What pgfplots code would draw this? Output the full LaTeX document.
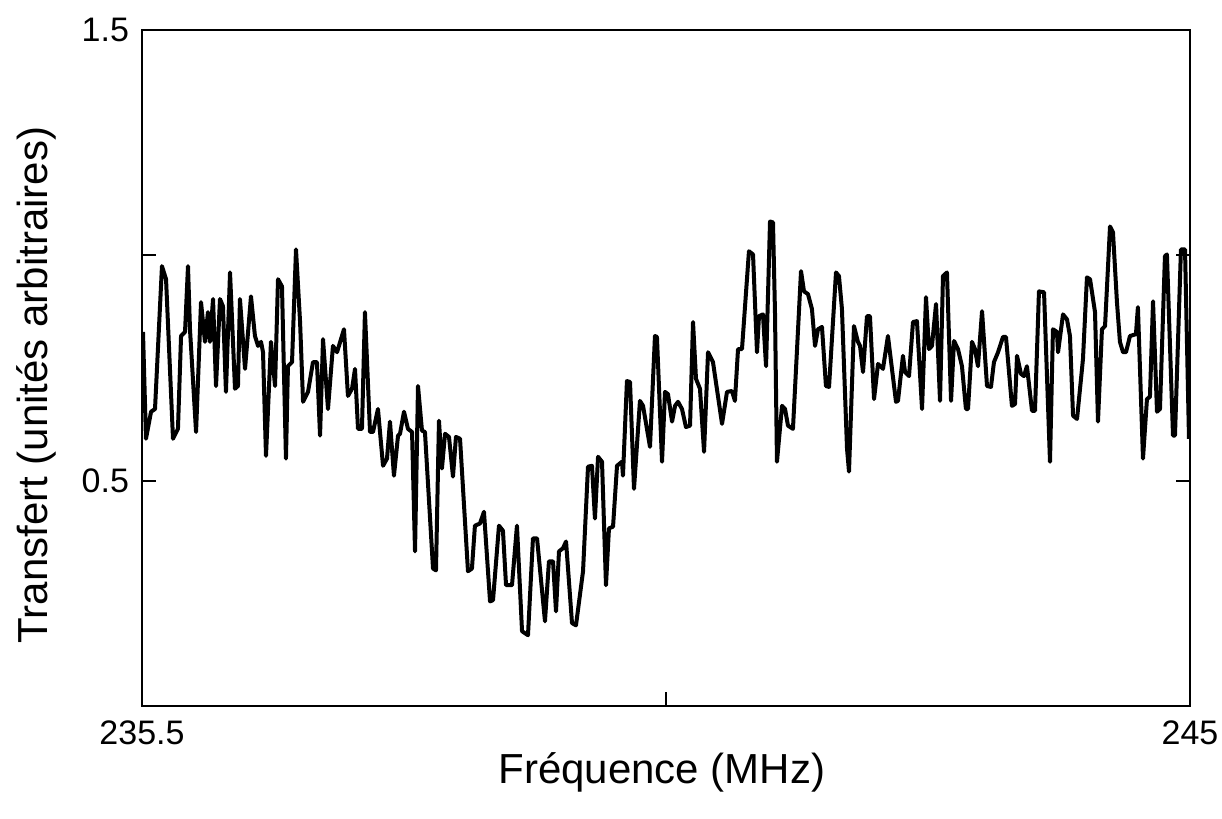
\documentclass[border=0pt]{standalone}
\usepackage{fontspec}
\setmainfont{Liberation Sans}
\setsansfont{Liberation Sans}
\usepackage{pgfplots}
\pgfplotsset{compat=1.18}
\begin{document}
\begin{tikzpicture}
\useasboundingbox (-71pt,-56.5pt) rectangle (540pt,353pt);
\begin{axis}[
  at={(0,0)}, anchor=origin,
  scale only axis, width=524pt, height=338pt,
  xmin=235.5, xmax=245, ymin=0, ymax=1.5,
  xtick={235.5,240.25,245}, xticklabels={235.5,,245},
  ytick={0.5,1,1.5}, yticklabels={0.5,,1.5},
  xtick pos=lower, ytick pos=both,
  tick align=inside, major tick length=7pt,
  axis line style={line width=1.1pt},
  every tick/.style={line width=1.1pt, black},
  tick label style={font=\fontsize{17}{20}\selectfont},
  xticklabel style={yshift=-4pt},
  yticklabel style={xshift=-3pt},
  /pgf/number format/assume math mode=true,
  xlabel={Fréquence (MHz)},
  ylabel={Transfert (unités arbitraires)},
  every axis x label/.style={at={(axis description cs:0.496,-0.115)}, anchor=base, font=\fontsize{21}{25}\selectfont},
  every axis y label/.style={at={(axis description cs:-0.0906,0.475)}, rotate=90, anchor=base, font=\fontsize{21}{25}\selectfont},
  clip=true,
]
\addplot[black, line width=2pt, line join=round, mark=none] table {
x y
235.509 0.830
235.536 0.593
235.582 0.653
235.618 0.659
235.681 0.976
235.718 0.947
235.781 0.593
235.826 0.615
235.854 0.821
235.890 0.830
235.917 0.976
235.935 0.836
235.990 0.608
236.035 0.896
236.071 0.808
236.098 0.874
236.116 0.808
236.144 0.903
236.171 0.710
236.207 0.903
236.234 0.887
236.261 0.697
236.298 0.962
236.343 0.704
236.370 0.710
236.388 0.903
236.434 0.748
236.488 0.909
236.524 0.821
236.552 0.799
236.579 0.808
236.597 0.785
236.624 0.555
236.669 0.808
236.706 0.710
236.733 0.947
236.769 0.931
236.805 0.549
236.823 0.754
236.860 0.763
236.896 1.013
236.933 0.852
236.960 0.675
237.005 0.697
237.050 0.763
237.086 0.763
237.114 0.600
237.141 0.814
237.186 0.659
237.231 0.799
237.268 0.785
237.331 0.836
237.367 0.688
237.404 0.704
237.431 0.748
237.458 0.615
237.494 0.615
237.521 0.874
237.567 0.608
237.594 0.608
237.639 0.659
237.685 0.533
237.721 0.549
237.748 0.631
237.784 0.511
237.821 0.600
237.839 0.604
237.875 0.653
237.911 0.615
237.948 0.608
237.975 0.343
238.002 0.710
238.038 0.611
238.065 0.608
238.138 0.305
238.165 0.301
238.192 0.633
238.219 0.527
238.247 0.604
238.283 0.597
238.319 0.509
238.346 0.597
238.383 0.593
238.455 0.299
238.491 0.305
238.518 0.400
238.564 0.405
238.600 0.431
238.655 0.232
238.682 0.235
238.736 0.400
238.772 0.389
238.800 0.268
238.854 0.268
238.899 0.400
238.945 0.166
238.999 0.157
239.044 0.372
239.081 0.372
239.153 0.188
239.189 0.321
239.226 0.321
239.253 0.210
239.280 0.343
239.316 0.350
239.344 0.365
239.398 0.184
239.434 0.179
239.498 0.299
239.543 0.531
239.579 0.533
239.606 0.416
239.634 0.553
239.670 0.542
239.706 0.268
239.733 0.394
239.770 0.398
239.806 0.533
239.851 0.542
239.860 0.511
239.896 0.721
239.924 0.719
239.960 0.482
240.014 0.677
240.042 0.666
240.105 0.575
240.150 0.821
240.168 0.819
240.214 0.542
240.241 0.697
240.268 0.692
240.305 0.631
240.332 0.666
240.359 0.675
240.395 0.659
240.431 0.619
240.468 0.622
240.495 0.852
240.522 0.726
240.558 0.704
240.595 0.564
240.631 0.785
240.676 0.763
240.758 0.626
240.803 0.697
240.848 0.699
240.875 0.677
240.903 0.792
240.939 0.792
241.002 1.009
241.039 1.002
241.075 0.785
241.093 0.865
241.129 0.869
241.157 0.754
241.193 1.075
241.220 1.073
241.238 0.874
241.256 0.542
241.302 0.666
241.329 0.659
241.356 0.622
241.401 0.615
241.474 0.965
241.501 0.920
241.537 0.914
241.573 0.881
241.601 0.799
241.628 0.836
241.664 0.841
241.700 0.710
241.728 0.708
241.791 0.962
241.818 0.954
241.845 0.881
241.891 0.571
241.909 0.520
241.954 0.843
241.990 0.808
242.009 0.799
242.036 0.741
242.072 0.865
242.099 0.865
242.136 0.681
242.172 0.759
242.217 0.748
242.262 0.821
242.335 0.675
242.353 0.677
242.398 0.777
242.417 0.741
242.453 0.732
242.489 0.852
242.525 0.854
242.571 0.659
242.607 0.907
242.634 0.792
242.661 0.799
242.698 0.892
242.734 0.677
242.761 0.954
242.797 0.962
242.834 0.677
242.861 0.810
242.897 0.792
242.933 0.754
242.969 0.659
242.988 0.659
243.024 0.808
243.051 0.792
243.078 0.754
243.115 0.876
243.160 0.710
243.196 0.708
243.223 0.763
243.260 0.785
243.305 0.819
243.332 0.819
243.386 0.666
243.414 0.670
243.432 0.777
243.468 0.737
243.495 0.732
243.522 0.754
243.568 0.655
243.595 0.655
243.631 0.920
243.677 0.918
243.731 0.542
243.758 0.836
243.794 0.830
243.804 0.785
243.849 0.869
243.885 0.858
243.912 0.821
243.940 0.644
243.976 0.637
244.030 0.770
244.066 0.951
244.094 0.947
244.139 0.874
244.166 0.631
244.202 0.836
244.230 0.843
244.275 1.064
244.302 1.051
244.338 0.896
244.365 0.808
244.393 0.785
244.420 0.785
244.456 0.821
244.510 0.825
244.528 0.885
244.574 0.549
244.610 0.681
244.637 0.686
244.665 0.898
244.701 0.653
244.728 0.659
244.773 0.998
244.791 1.002
244.846 0.600
244.864 0.600
244.918 1.013
244.955 1.013
244.991 0.593
};
\end{axis}
\end{tikzpicture}
\end{document}
